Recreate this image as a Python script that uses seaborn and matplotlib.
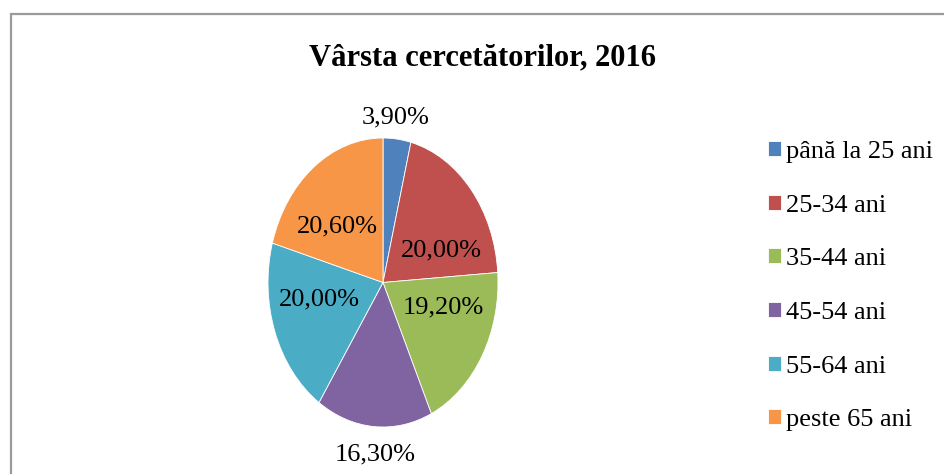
import matplotlib
matplotlib.use('Agg')
import matplotlib.pyplot as plt
import seaborn as sns
from matplotlib.patches import Rectangle

categories = ['până la 25 ani', '25-34 ani', '35-44 ani', '45-54 ani', '55-64 ani', 'peste 65 ani']
shares = [3.9, 20.0, 19.2, 16.3, 20.0, 20.6]
colors = ['#4F81BD', '#C0504D', '#9BBB59', '#8064A2', '#4BACC6', '#F79646']
title = 'Vârsta cercetătorilor, 2016'

# where Excel put each label, in pie units (radius 1)
label_pos = [(0.11, 1.14), (0.51, 0.22), (0.52, -0.17), (-0.07, -1.19), (-0.55, -0.12), (-0.40, 0.39)]

sns.set_theme(style='white')
plt.rcParams['font.family'] = ['Liberation Serif', 'DejaVu Serif']
plt.rcParams['text.color'] = 'black'

fig = plt.figure(figsize=(9.45, 4.74), dpi=100)
fig.patch.set_facecolor('white')
ax = fig.add_axes([268 / 945, 1 - 427 / 474, 230 / 945, 289 / 474])

palette = sns.color_palette(colors)
wedges, _ = ax.pie(shares, colors=palette, startangle=90, counterclock=False,
                   wedgeprops=dict(edgecolor='white', linewidth=0.6))
ax.set_aspect('auto')
ax.set_xlim(-1, 1)
ax.set_ylim(-1, 1)
ax.axis('off')

for v, (x, y) in zip(shares, label_pos):
    ax.text(x, y, f'{v:.2f}%'.replace('.', ','), ha='center', va='center',
            fontsize=19, color='black', clip_on=False)

fig.text(483 / 945, 1 - 58 / 474, title, ha='center', va='center',
         fontsize=22, fontweight='bold', color='black')

fig.legend(wedges, categories, loc='upper left', bbox_to_anchor=(768 / 945, 1 - 141 / 474),
           frameon=False, fontsize=19, handlelength=0.5, handleheight=0.5,
           handletextpad=0.2, labelspacing=1.2, borderpad=0, borderaxespad=0,
           labelcolor='black')

fig.patches.append(Rectangle((10.5 / 945, -0.1), 1.2, 1.1 - 14 / 474, transform=fig.transFigure,
                             fill=False, edgecolor='#9a9a9a', linewidth=1.6))

fig.savefig('out.png', dpi=100)
